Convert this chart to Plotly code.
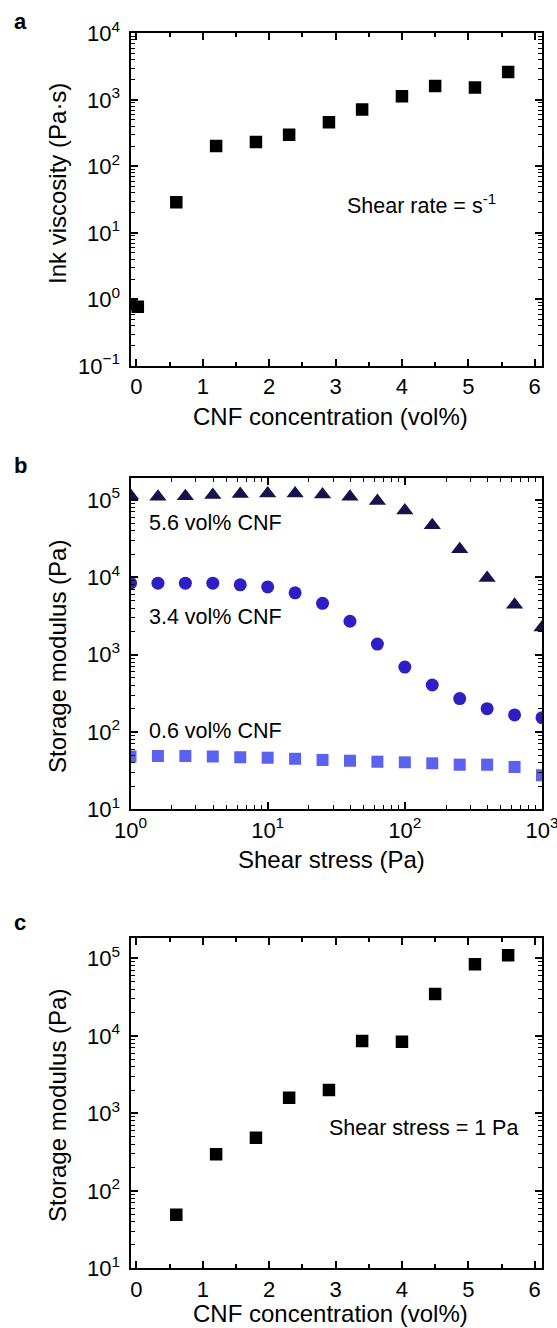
import plotly.graph_objects as go

# ---------------- data ----------------
# Panel a: ink viscosity vs CNF concentration
conc_a = [-0.08, 0.02, 0.6, 1.2, 1.8, 2.3, 2.9, 3.4, 4.0, 4.5, 5.1, 5.6]
viscosity_a = [0.85, 0.78, 29, 203, 233, 298, 459, 713, 1137, 1611, 1538, 2630]

# Panel b: storage modulus vs shear stress
stress_b = [1, 1.585, 2.512, 3.981, 6.31, 10, 15.85, 25.12, 39.81, 63.1,
            100, 158.5, 251.2, 398.1, 631, 1000]
g_56 = [1.14e5, 1.1e5, 1.12e5, 1.16e5, 1.19e5, 1.21e5, 1.21e5, 1.18e5, 1.1e5, 9.7e4,
        7.3e4, 4.7e4, 2.3e4, 9.8e3, 4.4e3, 2.25e3]
g_34 = [8.4e3, 8.4e3, 8.4e3, 8.4e3, 8.0e3, 7.5e3, 6.3e3, 4.6e3, 2.7e3, 1.37e3,
        690, 405, 270, 200, 166, 153]
g_06 = [48, 49, 49, 48, 47, 46.5, 45, 43.5, 42.5, 41.3, 40.5, 39.3, 37.8, 37.8, 35.3, 27.5]
series_b = ["5.6 vol% CNF", "3.4 vol% CNF", "0.6 vol% CNF"]

# Panel c: storage modulus at 1 Pa vs CNF concentration
conc_c = [0.6, 1.2, 1.8, 2.3, 2.9, 3.4, 4.0, 4.5, 5.1, 5.6]
modulus_c = [49, 296, 484, 1590, 2000, 8570, 8400, 34700, 84000, 110000]

# tick labels
lin_ticks = [0, 1, 2, 3, 4, 5, 6]
a_yexp = [-1, 0, 1, 2, 3, 4]
bc_yexp = [1, 2, 3, 4, 5]
b_xexp = [0, 1, 2, 3]

# ---------------- layout helpers ----------------
W, H = 557, 1328
FONT = "Arial, Liberation Sans, sans-serif"


def px(x):
    return x / W


def py(y):
    return 1 - y / H


def pow_text(e):
    s = str(e).replace("-", "\u2212")
    return "10<sup>%s</sup>" % s


fig = go.Figure()
fig.add_trace(go.Scatter(x=conc_a, y=viscosity_a, mode="markers",
                         marker=dict(symbol="square", size=12.5, color="black"),
                         xaxis="x", yaxis="y", showlegend=False))
fig.add_trace(go.Scatter(x=stress_b, y=g_56, mode="markers", name=series_b[0],
                         marker=dict(symbol="triangle-up", size=15, color="#15134b"),
                         xaxis="x2", yaxis="y2", showlegend=False))
fig.add_trace(go.Scatter(x=stress_b, y=g_34, mode="markers", name=series_b[1],
                         marker=dict(symbol="circle", size=13, color="#2d1fc5"),
                         xaxis="x2", yaxis="y2", showlegend=False))
fig.add_trace(go.Scatter(x=stress_b, y=g_06, mode="markers", name=series_b[2],
                         marker=dict(symbol="square", size=12, color="#5a62ef"),
                         xaxis="x2", yaxis="y2", showlegend=False))
fig.add_trace(go.Scatter(x=conc_c, y=modulus_c, mode="markers",
                         marker=dict(symbol="square", size=12.5, color="black"),
                         xaxis="x3", yaxis="y3", showlegend=False))

xdom = [px(130.5), px(542)]
common = dict(showline=True, linecolor="black", linewidth=2, mirror="allticks",
              ticks="inside", ticklen=7, tickwidth=1.5, tickcolor="black",
              showgrid=False, zeroline=False, automargin=False,
              tickfont=dict(family=FONT, size=22, color="black"))
lin_x = dict(common, type="linear", range=[-0.09, 6.11], tickvals=lin_ticks,
             ticktext=[str(t) for t in lin_ticks],
             minor=dict(ticks="inside", ticklen=4, tickwidth=1.5, tickcolor="black",
                        dtick=0.5, tick0=0, showgrid=False))
log_minor = dict(ticks="inside", ticklen=4, tickwidth=1.2, tickcolor="black",
                 dtick="D1", showgrid=False)
log_y = dict(common, type="log", ticklabelstandoff=4, minor=log_minor)

fig.update_layout(
    width=W, height=H, autosize=False,
    margin=dict(l=0, r=0, t=0, b=0, pad=0, autoexpand=False),
    paper_bgcolor="white", plot_bgcolor="white",
    font=dict(family=FONT, size=22, color="black"),
    xaxis=dict(lin_x, domain=xdom, anchor="y"),
    yaxis=dict(log_y, range=[-1, 4], domain=[py(366), py(33.3)],
               anchor="x", tickvals=[10 ** e for e in a_yexp],
               ticktext=[pow_text(e) for e in a_yexp]),
    xaxis2=dict(common, type="log", range=[0, 3], domain=xdom, anchor="y2",
                tickvals=[10 ** e for e in b_xexp], ticklabeloverflow="allow",
                ticktext=[pow_text(e) for e in b_xexp], minor=log_minor),
    yaxis2=dict(log_y, range=[1, 5.28], domain=[py(809.3), py(478.3)],
                anchor="x2", tickvals=[10 ** e for e in bc_yexp],
                ticktext=[pow_text(e) for e in bc_yexp]),
    xaxis3=dict(lin_x, domain=xdom, anchor="y3"),
    yaxis3=dict(log_y, range=[1, 5.26], domain=[py(1268.3), py(938.3)],
                anchor="x3", tickvals=[10 ** e for e in bc_yexp],
                ticktext=[pow_text(e) for e in bc_yexp]),
)

ann = []


def add_text(text, x, y, size=24, xanchor="center", angle=0, bold=False):
    ann.append(dict(text=("<b>%s</b>" % text) if bold else text,
                    x=px(x), y=py(y), xref="paper", yref="paper",
                    xanchor=xanchor, yanchor="middle", textangle=angle,
                    showarrow=False, font=dict(family=FONT, size=size, color="black")))


# panel letters
add_text("a", 20, 22, size=22, bold=True)
add_text("b", 20, 466, size=22, bold=True)
add_text("c", 20, 922, size=22, bold=True)
# axis titles
add_text("CNF concentration (vol%)", 330, 416)
add_text("Shear stress (Pa)", 331, 860)
add_text("CNF concentration (vol%)", 330, 1313)
add_text("Ink viscosity (Pa\u00b7s)", 58, 184, angle=-90)
add_text("Storage modulus (Pa)", 57, 657, angle=-90)
add_text("Storage modulus (Pa)", 57, 1106, angle=-90)
# in-plot labels
add_text("Shear rate = s<sup>-1</sup>", 345, 204, size=21.5, xanchor="left")
add_text("Shear stress = 1 Pa", 327, 1128, size=21.5, xanchor="left")
add_text(series_b[0], 147, 523, size=21.5, xanchor="left")
add_text(series_b[1], 147, 617, size=21.5, xanchor="left")
add_text(series_b[2], 147, 731, size=21.5, xanchor="left")
fig.update_layout(annotations=ann)

fig.write_html(
    "out.html",
    config={"displayModeBar": False},
    post_script="document.body.style.margin='0';document.body.style.overflow='hidden';",
)
